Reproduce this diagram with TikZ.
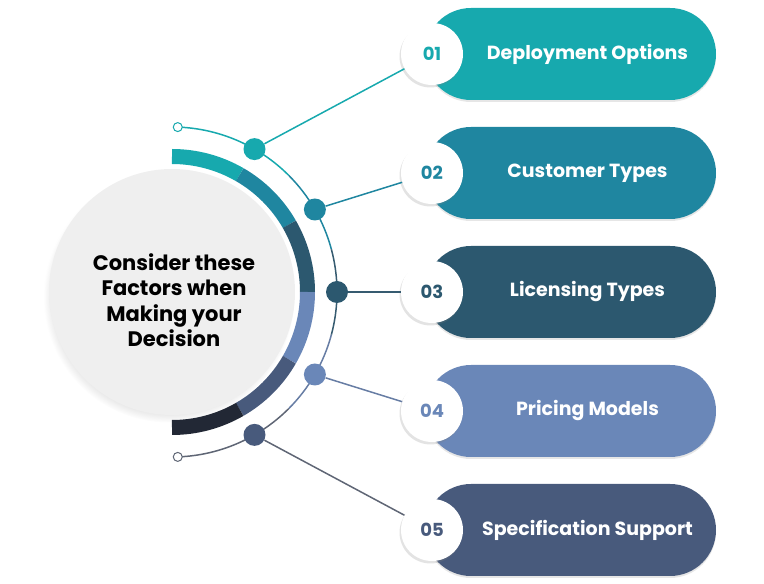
\documentclass[tikz,border=0pt]{standalone}
\usepackage{fontspec}
\setmainfont{Poppins}
\usetikzlibrary{positioning, shadows, calc}
\definecolor{optA}{HTML}{17A9AE}
\definecolor{optB}{HTML}{1F86A0}
\definecolor{optC}{HTML}{2C586F}
\definecolor{optD}{HTML}{6A87B8}
\definecolor{optE}{HTML}{485A7C}
\definecolor{optF}{HTML}{222835}
\definecolor{hubgray}{HTML}{EFEFEF}
\definecolor{wire}{HTML}{5F6675}

\begin{document}
\begin{tikzpicture}[x=1pt, y=1pt, semithick,
    pill/.style={minimum width=291pt, minimum height=92pt, rounded corners=46pt, inner sep=0pt, drop shadow={shadow xshift=0pt, shadow yshift=-2pt, opacity=.2}},
    pilltext/.style={text=white, font=\fontsize{19}{22}\selectfont\bfseries},
    numring/.style={circle, fill=white, minimum size=62pt, inner sep=0pt, font=\fontsize{18}{20}\selectfont\bfseries, drop shadow={shadow xshift=-1.5pt, shadow yshift=-2.5pt, opacity=.22}},
    dot/.style={circle, minimum size=22pt, inner sep=0pt},
    endring/.style={circle, fill=white, line width=1pt, minimum size=9pt, inner sep=0pt},
    ring/.style={line width=15pt},
    wireline/.style={line width=1.5pt}]
    \useasboundingbox (0,0) rectangle (764,584);
    \coordinate (ctr) at (172,292);

    % hub circle with the thick coloured ring
    \node[circle, fill=hubgray, minimum size=246pt, inner sep=0pt, circular drop shadow={shadow xshift=-3pt, shadow yshift=-5pt, shadow scale=1.02, opacity=.35}] (hub) at (ctr) {};
    \node[align=center, font=\fontsize{21}{25.5}\selectfont\bfseries] (hubtext) at (174,284) {Consider these\\Factors when\\Making your\\Decision};
    \draw[ring, optA] (ctr) ++(90:135.5) arc[start angle=90, end angle=60, radius=135.5];
    \draw[ring, optB] (ctr) ++(60:135.5) arc[start angle=60, end angle=30, radius=135.5];
    \draw[ring, optC] (ctr) ++(30:135.5) arc[start angle=30, end angle=0, radius=135.5];
    \draw[ring, optD] (ctr) ++(0:135.5) arc[start angle=0, end angle=-30, radius=135.5];
    \draw[ring, optE] (ctr) ++(-30:135.5) arc[start angle=-30, end angle=-60, radius=135.5];
    \draw[ring, optF] (ctr) ++(-60:135.5) arc[start angle=-60, end angle=-90, radius=135.5];

    % thin outer arc
    \draw[wireline, optA] (ctr) ++(88:165) arc[start angle=88, end angle=45, radius=165];
    \draw[wireline, optB] (ctr) ++(45:165) arc[start angle=45, end angle=15, radius=165];
    \draw[wireline, optC!80!wire] (ctr) ++(15:165) arc[start angle=15, end angle=-15, radius=165];
    \draw[wireline, optD!70!wire] (ctr) ++(-15:165) arc[start angle=-15, end angle=-45, radius=165];
    \draw[wireline, wire] (ctr) ++(-45:165) arc[start angle=-45, end angle=-88, radius=165];
    \path (ctr) ++(88:165) node[endring, draw=optA] (topend) {};
    \path (ctr) ++(-88:165) node[endring, draw=wire] (botend) {};

    \path (ctr) ++(60:165) node[dot, fill=optA] (d1) {};
    \path (ctr) ++(30:165) node[dot, fill=optB] (d2) {};
    \path (ctr) ++(0:165) node[dot, fill=optC] (d3) {};
    \path (ctr) ++(-30:165) node[dot, fill=optD] (d4) {};
    \path (ctr) ++(-60:165) node[dot, fill=optE] (d5) {};

    % option pills
    \node[pill, fill=optA] (p1) at (570.5,530) {};
    \node[pill, fill=optB] (p2) at (570.5,411) {};
    \node[pill, fill=optC] (p3) at (570.5,292) {};
    \node[pill, fill=optD] (p4) at (570.5,173) {};
    \node[pill, fill=optE] (p5) at (570.5,54) {};
    \node[pilltext] (t1) at ([xshift=17pt]p1.center) {Deployment Options};
    \node[pilltext] (t2) at ([xshift=17pt]p2.center) {Customer Types};
    \node[pilltext] (t3) at ([xshift=17pt]p3.center) {Licensing Types};
    \node[pilltext] (t4) at ([xshift=17pt]p4.center) {Pricing Models};
    \node[pilltext] (t5) at ([xshift=17pt]p5.center) {Specification Support};

    \node[numring, text=optA] (n1) at (432,530) {01};
    \node[numring, text=optB] (n2) at (432,411) {02};
    \node[numring, text=optC] (n3) at (432,292) {03};
    \node[numring, text=optD] (n4) at (432,173) {04};
    \node[numring, text=optE] (n5) at (432,54) {05};

    \draw[wireline, optA] (d1) -- (n1);
    \draw[wireline, optB] (d2) -- (n2);
    \draw[wireline, optC!80!wire] (d3) -- (n3);
    \draw[wireline, optD!70!wire] (d4) -- (n4);
    \draw[wireline, wire] (d5) -- (n5);
\end{tikzpicture}
\end{document}
